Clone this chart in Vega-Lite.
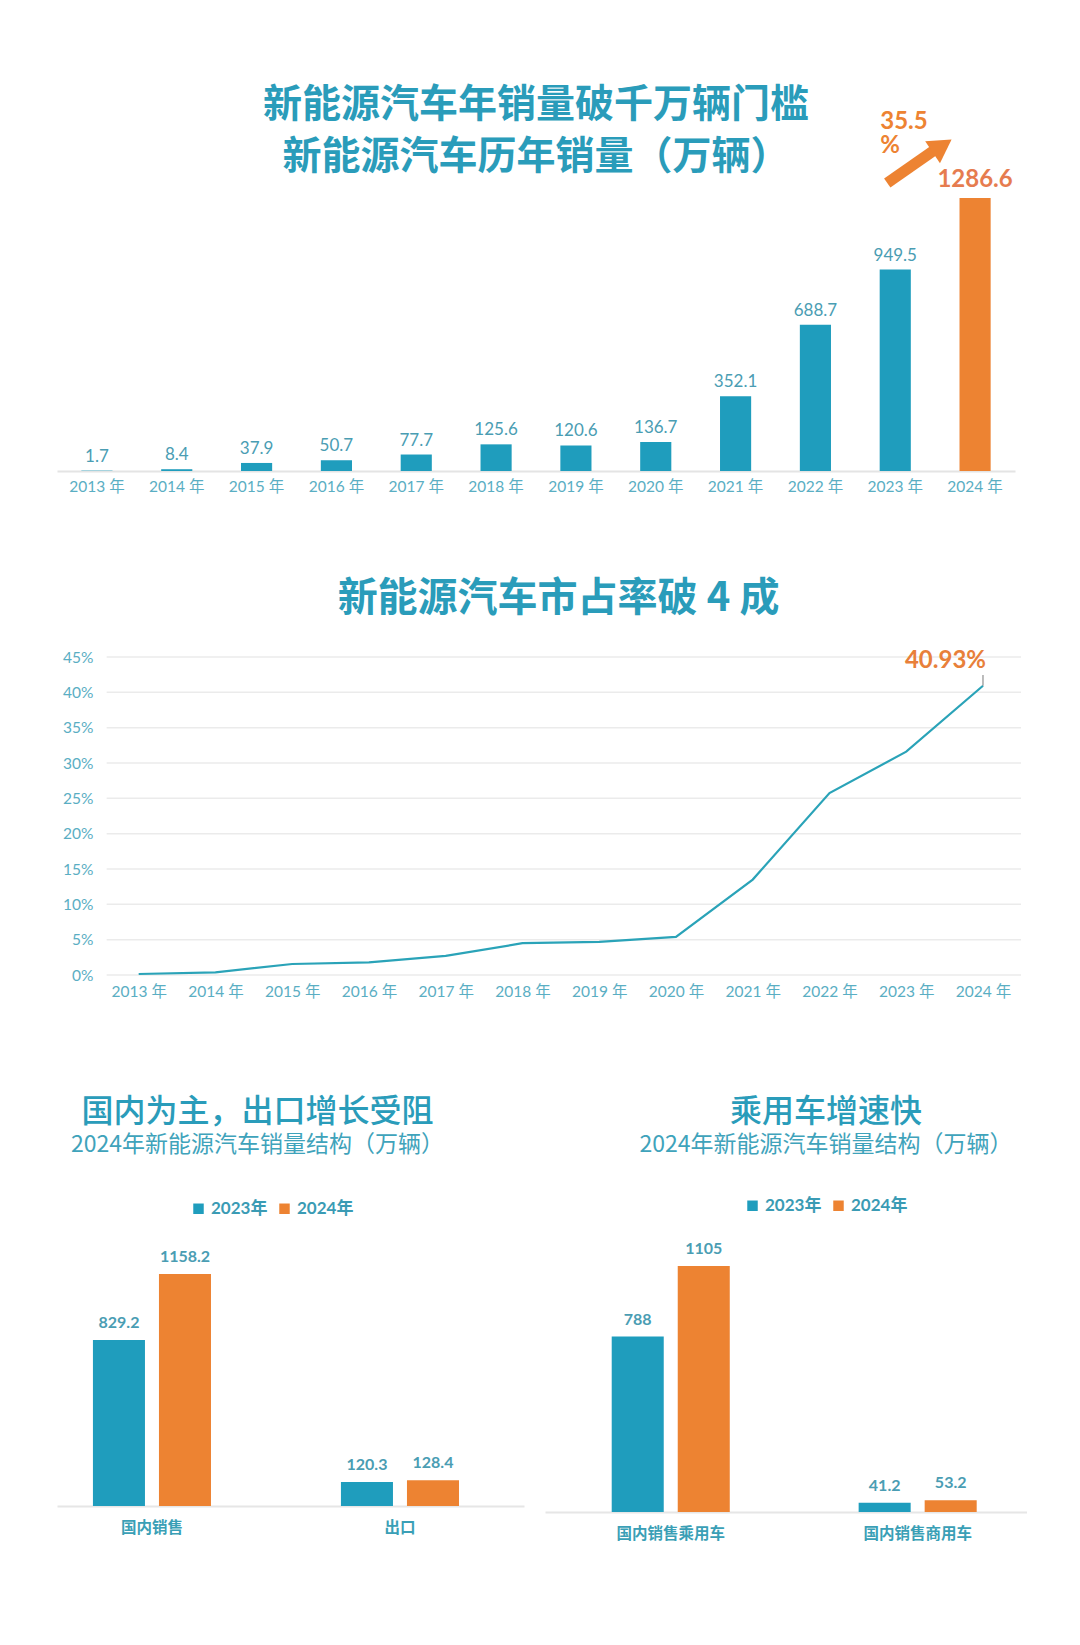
{
  "$schema": "https://vega.github.io/schema/vega-lite/v6.json",
  "background": "white",
  "padding": {"top": 86, "left": 57, "right": 0, "bottom": 0},
  "config": {
    "view": {"stroke": null},
    "font": "Lato, Noto Sans CJK SC",
    "axis": {"ticks": false, "grid": false, "labelFont": "Lato, Noto Sans CJK SC", "labelColor": "#5aaec3", "title": null},
    "title": {"font": "Noto Sans CJK SC", "color": "#2a9cba"}
  },
  "datasets": {
    "sales": [
      {"year": "2013 年", "sales": 1.7},
      {"year": "2014 年", "sales": 8.4},
      {"year": "2015 年", "sales": 37.9},
      {"year": "2016 年", "sales": 50.7},
      {"year": "2017 年", "sales": 77.7},
      {"year": "2018 年", "sales": 125.6},
      {"year": "2019 年", "sales": 120.6},
      {"year": "2020 年", "sales": 136.7},
      {"year": "2021 年", "sales": 352.1},
      {"year": "2022 年", "sales": 688.7},
      {"year": "2023 年", "sales": 949.5},
      {"year": "2024 年", "sales": 1286.6}
    ],
    "share": [
      {"year": "2013 年", "v": 0.0014},
      {"year": "2014 年", "v": 0.0038},
      {"year": "2015 年", "v": 0.0156},
      {"year": "2016 年", "v": 0.018},
      {"year": "2017 年", "v": 0.027},
      {"year": "2018 年", "v": 0.045},
      {"year": "2019 年", "v": 0.047},
      {"year": "2020 年", "v": 0.054},
      {"year": "2021 年", "v": 0.135},
      {"year": "2022 年", "v": 0.2575},
      {"year": "2023 年", "v": 0.316},
      {"year": "2024 年", "v": 0.4093}
    ],
    "grid": [
      {"v": 0}, {"v": 0.05}, {"v": 0.1}, {"v": 0.15}, {"v": 0.2},
      {"v": 0.25}, {"v": 0.3}, {"v": 0.35}, {"v": 0.4}, {"v": 0.45}
    ],
    "structure": [
      {"cat": "国内销售", "yr": "2023年", "v": 829.2},
      {"cat": "国内销售", "yr": "2024年", "v": 1158.2},
      {"cat": "出口", "yr": "2023年", "v": 120.3},
      {"cat": "出口", "yr": "2024年", "v": 128.4}
    ],
    "passenger": [
      {"cat": "国内销售乘用车", "yr": "2023年", "v": 788},
      {"cat": "国内销售乘用车", "yr": "2024年", "v": 1105},
      {"cat": "国内销售商用车", "yr": "2023年", "v": 41.2},
      {"cat": "国内销售商用车", "yr": "2024年", "v": 53.2}
    ]
  },
  "spacing": 96,
  "vconcat": [
    {
      "spacing": 83,
      "vconcat": [
        {
          "width": 958,
          "height": 365,
          "title": {
            "text": ["新能源汽车年销量破千万辆门槛", "新能源汽车历年销量（万辆）"],
            "fontSize": 39,
            "fontWeight": "bold",
            "lineHeight": 52,
            "baseline": "bottom",
            "anchor": "middle",
            "frame": "group",
            "offset": -110
          },
          "data": {"name": "sales"},
          "encoding": {
            "x": {
              "field": "year",
              "type": "nominal",
              "sort": null,
              "scale": {"paddingInner": 0.61, "paddingOuter": 0.305},
              "axis": {"labelAngle": 0, "labelFontSize": 15.5, "labelPadding": 8, "domainColor": "#e4e4e4", "domainWidth": 2}
            },
            "y": {"field": "sales", "type": "quantitative", "scale": {"domain": [0, 1720]}, "axis": null}
          },
          "layer": [
            {
              "mark": {"type": "bar"},
              "encoding": {
                "color": {"condition": {"test": "datum.year === '2024 年'", "value": "#ed8332"}, "value": "#1f9dbd"}
              }
            },
            {
              "transform": [{"filter": "datum.year !== '2024 年'"}],
              "mark": {"type": "text", "baseline": "bottom", "dy": -5, "fontSize": 17, "color": "#4a9db3"},
              "encoding": {"text": {"field": "sales", "type": "quantitative", "format": ".1f"}}
            },
            {
              "transform": [{"filter": "datum.year === '2024 年'"}],
              "mark": {"type": "text", "baseline": "bottom", "dy": -6, "fontSize": 24, "fontWeight": "bold", "color": "#e67c4f"},
              "encoding": {"text": {"field": "sales", "type": "quantitative", "format": ".1f"}}
            },
            {
              "transform": [{"filter": "datum.year === '2023 年'"}],
              "mark": {"type": "text", "align": "left", "baseline": "top", "dx": -15, "dy": -88, "fontSize": 24, "fontWeight": "bold", "lineHeight": 24, "color": "#ed8332"},
              "encoding": {
                "y": {"datum": 1286.6},
                "text": {"value": ["35.5", "%"]}
              }
            },
            {
              "transform": [{"filter": "datum.year === '2023 年'"}],
              "mark": {"type": "rule", "color": "#ed8332", "strokeWidth": 11, "strokeCap": "butt", "xOffset": -8, "x2Offset": -42},
              "encoding": {
                "x2": {"datum": "2024 年"},
                "y": {"datum": 1357},
                "y2": {"datum": 1508}
              }
            },
            {
              "transform": [{"filter": "datum.year === '2024 年'"}],
              "mark": {"type": "point", "shape": "triangle-up", "filled": true, "opacity": 1, "size": 700, "angle": 56, "color": "#ed8332", "xOffset": -33},
              "encoding": {
                "y": {"datum": 1532}
              }
            }
          ]
        },
        {
          "width": 961,
          "height": 318,
          "title": {
            "text": "新能源汽车市占率破 4 成",
            "fontSize": 40,
            "fontWeight": "bold",
            "anchor": "middle",
            "frame": "group",
            "dx": 21,
            "offset": 30
          },
          "encoding": {
            "x": {
              "field": "year",
              "type": "ordinal",
              "sort": null,
              "scale": {
                "type": "point",
                "domain": ["2013 年", "2014 年", "2015 年", "2016 年", "2017 年", "2018 年", "2019 年", "2020 年", "2021 年", "2022 年", "2023 年", "2024 年"],
                "padding": 0.76,
                "align": 0.7
              },
              "axis": {"labelAngle": 0, "labelFontSize": 15.5, "labelPadding": 9, "domain": false}
            },
            "y": {
              "field": "v",
              "type": "quantitative",
              "scale": {"domain": [0, 0.45]},
              "axis": {"format": ".0%", "values": [0, 0.05, 0.1, 0.15, 0.2, 0.25, 0.3, 0.35, 0.4, 0.45], "offset": -48, "domain": false, "labelFontSize": 15.5, "labelPadding": 12}
            }
          },
          "layer": [
            {
              "data": {"name": "grid"},
              "mark": {"type": "rule", "color": "#ebebeb", "strokeWidth": 1.5, "xOffset": -32, "x2Offset": 38},
              "encoding": {
                "x": {"datum": "2013 年"},
                "x2": {"datum": "2024 年"}
              }
            },
            {
              "data": {"name": "share"},
              "mark": {"type": "line", "color": "#2aa3b8", "strokeWidth": 2.2}
            },
            {
              "data": {"name": "share"},
              "transform": [{"filter": "datum.year === '2024 年'"}],
              "mark": {"type": "rule", "color": "#7a7a7a", "strokeWidth": 1},
              "encoding": {"y2": {"datum": 0.4245}}
            },
            {
              "data": {"name": "share"},
              "transform": [{"filter": "datum.year === '2024 年'"}],
              "mark": {"type": "text", "align": "right", "baseline": "middle", "dx": 3, "dy": -25, "fontSize": 24, "fontWeight": "bold", "color": "#e8803a"},
              "encoding": {"text": {"field": "v", "type": "quantitative", "format": ".2%"}}
            }
          ]
        }
      ]
    },
    {
      "spacing": 21,
      "hconcat": [
        {
          "width": 467,
          "height": 266,
          "title": {
            "text": "国内为主，出口增长受阻",
            "subtitle": "2024年新能源汽车销量结构（万辆）",
            "fontSize": 32,
            "fontWeight": 500,
            "subtitleFont": "Noto Sans CJK SC",
            "subtitleFontSize": 23,
            "subtitleColor": "#3fa3bb",
            "subtitlePadding": 5,
            "anchor": "middle",
            "frame": "group",
            "dx": -33,
            "offset": 42
          },
          "data": {"name": "structure"},
          "encoding": {
            "x": {
              "field": "cat",
              "type": "nominal",
              "sort": null,
              "scale": {"paddingInner": 0.524, "paddingOuter": 0.2035, "align": 0.356},
              "axis": {"labelAngle": 0, "labelFont": "Noto Sans CJK SC", "labelFontWeight": "bold", "labelFontSize": 15.5, "labelColor": "#3a9fb6", "labelPadding": 14, "domainColor": "#e6e6e6", "domainWidth": 2}
            },
            "xOffset": {"field": "yr", "type": "nominal", "scale": {"paddingInner": 0.212}},
            "y": {"field": "v", "type": "quantitative", "scale": {"domain": [0, 1328]}, "axis": null}
          },
          "layer": [
            {
              "mark": {"type": "bar"},
              "encoding": {
                "color": {
                  "field": "yr",
                  "type": "nominal",
                  "scale": {"range": ["#1f9dbd", "#ed8332"]},
                  "legend": {"orient": "none", "legendX": 133, "legendY": -40, "direction": "horizontal", "title": null, "symbolType": "square", "symbolSize": 110, "labelFontSize": 17, "labelFontWeight": "bold", "labelColor": "#3a9bb4", "columnPadding": 8}
                }
              }
            },
            {
              "mark": {"type": "text", "baseline": "bottom", "dy": -9, "fontSize": 16, "fontWeight": "bold", "color": "#4a9db3"},
              "encoding": {"text": {"field": "v", "type": "quantitative", "format": "~f"}}
            }
          ]
        },
        {
          "width": 482,
          "height": 272,
          "title": {
            "text": "乘用车增速快",
            "subtitle": "2024年新能源汽车销量结构（万辆）",
            "fontSize": 32,
            "fontWeight": 500,
            "subtitleFont": "Noto Sans CJK SC",
            "subtitleFontSize": 23,
            "subtitleColor": "#3fa3bb",
            "subtitlePadding": 5,
            "anchor": "middle",
            "frame": "group",
            "dx": 40,
            "offset": 39
          },
          "data": {"name": "passenger"},
          "encoding": {
            "x": {
              "field": "cat",
              "type": "nominal",
              "sort": null,
              "scale": {"paddingInner": 0.522, "paddingOuter": 0.237, "align": 0.57},
              "axis": {"labelAngle": 0, "labelFont": "Noto Sans CJK SC", "labelFontWeight": "bold", "labelFontSize": 15.5, "labelColor": "#3a9fb6", "labelPadding": 14, "domainColor": "#e6e6e6", "domainWidth": 2}
            },
            "xOffset": {"field": "yr", "type": "nominal", "scale": {"paddingInner": 0.212}},
            "y": {"field": "v", "type": "quantitative", "scale": {"domain": [0, 1222]}, "axis": null}
          },
          "layer": [
            {
              "mark": {"type": "bar"},
              "encoding": {
                "color": {
                  "field": "yr",
                  "type": "nominal",
                  "scale": {"range": ["#1f9dbd", "#ed8332"]},
                  "legend": {"orient": "none", "legendX": 199, "legendY": -43, "direction": "horizontal", "title": null, "symbolType": "square", "symbolSize": 110, "labelFontSize": 17, "labelFontWeight": "bold", "labelColor": "#3a9bb4", "columnPadding": 8}
                }
              }
            },
            {
              "mark": {"type": "text", "baseline": "bottom", "dy": -9, "fontSize": 16, "fontWeight": "bold", "color": "#4a9db3"},
              "encoding": {"text": {"field": "v", "type": "quantitative", "format": "~f"}}
            }
          ]
        }
      ],
      "resolve": {"scale": {"color": "independent"}}
    }
  ]
}
